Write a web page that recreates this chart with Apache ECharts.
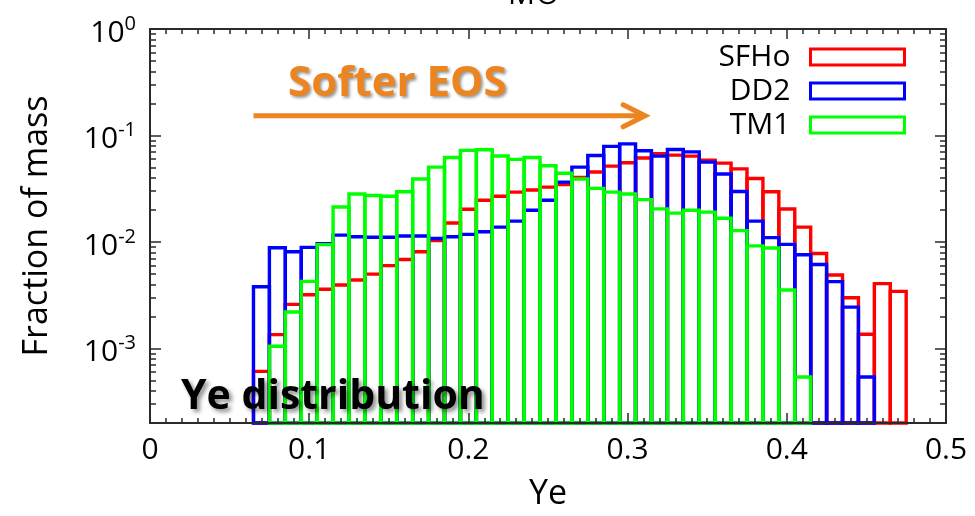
<!DOCTYPE html>
<html>
<head>
<meta charset="utf-8">
<script src="https://cdn.jsdelivr.net/npm/echarts@6/dist/echarts.min.js"></script>
<style>
  html, body { margin: 0; padding: 0; background: #fff; }
  #chart { width: 975px; height: 516px; }
</style>
</head>
<body>
<div id="chart"></div>
<script>
// Ye histogram: bin centres (width 0.01) and mass fraction per bin
const binCenters = [0.07, 0.08, 0.09, 0.10, 0.11, 0.12, 0.13, 0.14, 0.15, 0.16,
                    0.17, 0.18, 0.19, 0.20, 0.21, 0.22, 0.23, 0.24, 0.25, 0.26,
                    0.27, 0.28, 0.29, 0.30, 0.31, 0.32, 0.33, 0.34, 0.35, 0.36,
                    0.37, 0.38, 0.39, 0.40, 0.41, 0.42, 0.43, 0.44, 0.45, 0.46, 0.47];
const binWidth = 0.01;

const sfho = [6.1e-4, 1.35e-3, 2.6e-3, 3.2e-3, 3.6e-3, 3.95e-3, 4.4e-3, 5.0e-3, 6.0e-3, 6.85e-3,
              8.1e-3, 1.03e-2, 1.51e-2, 2.03e-2, 2.47e-2, 2.69e-2, 2.94e-2, 3.08e-2, 3.28e-2, 3.46e-2,
              4.05e-2, 4.55e-2, 5.16e-2, 5.55e-2, 6.15e-2, 6.75e-2, 6.55e-2, 6.4e-2, 5.85e-2, 5.5e-2,
              4.86e-2, 3.95e-2, 2.97e-2, 2.04e-2, 1.38e-2, 7.8e-3, 4.9e-3, 3.0e-3, 1.36e-3, 4.07e-3, 3.44e-3];

const dd2 = [3.8e-3, 8.85e-3, 8.1e-3, 8.9e-3, 9.65e-3, 1.16e-2, 1.12e-2, 1.11e-2, 1.11e-2, 1.14e-2,
             1.14e-2, 1.08e-2, 1.12e-2, 1.18e-2, 1.25e-2, 1.38e-2, 1.57e-2, 1.99e-2, 2.47e-2, 3.65e-2,
             5.05e-2, 6.5e-2, 7.9e-2, 8.35e-2, 7.2e-2, 6.4e-2, 7.38e-2, 7.02e-2, 5.62e-2, 4.35e-2,
             2.98e-2, 1.57e-2, 1.10e-2, 9.5e-3, 7.6e-3, 6.15e-3, 4.25e-3, 2.45e-3, 5.4e-4, null, null];

const tm1 = [null, 1.05e-3, 2.2e-3, 4.27e-3, 9.45e-3, 2.13e-2, 2.82e-2, 2.73e-2, 2.69e-2, 2.97e-2,
             3.9e-2, 5.05e-2, 6.21e-2, 7.25e-2, 7.35e-2, 6.42e-2, 5.97e-2, 6.21e-2, 5.2e-2, 4.42e-2,
             3.9e-2, 3.19e-2, 2.94e-2, 2.82e-2, 2.5e-2, 2.05e-2, 1.87e-2, 1.99e-2, 1.91e-2, 1.67e-2,
             1.28e-2, 9.2e-3, 8.8e-3, 3.55e-3, 5.4e-4, null, null, null, null, null, null];

const seriesNames = ['SFHo', 'DD2', 'TM1'];
const seriesColors = ['#ff0000', '#0000ff', '#00ff00'];

const xTickLabels = ['0', '0.1', '0.2', '0.3', '0.4', '0.5'];
const yDecades = [1e-3, 1e-2, 1e-1, 1];
const yMin = 2e-4, yMax = 1;

// minor log ticks 2..9 within each decade
const yMinorTicks = [];
[1e-4, 1e-3, 1e-2, 1e-1].forEach(d => {
  for (let m = 2; m <= 9; m++) {
    const v = +(m * d).toPrecision(3);
    if (v > yMin && v < yMax) yMinorTicks.push(v);
  }
});

const FONT = 'Open Sans';
const AXIS_COLOR = '#2a2a2a';
const BAR_STROKE = 3.4;

function histSeries(name, values, color) {
  const data = [];
  binCenters.forEach((c, i) => { if (values[i] != null) data.push([c, values[i]]); });
  return {
    name: name,
    type: 'custom',
    xAxisIndex: 0,
    yAxisIndex: 0,
    z: 2,
    itemStyle: { color: color },
    data: data,
    renderItem: function (params, api) {
      const c = api.value(0), v = api.value(1);
      const tl = api.coord([c - binWidth / 2, v]);
      const br = api.coord([c + binWidth / 2, yMin]);
      return {
        type: 'rect',
        shape: { x: tl[0], y: tl[1], width: br[0] - tl[0], height: br[1] - tl[1] },
        style: { fill: 'none', stroke: color, lineWidth: BAR_STROKE }
      };
    }
  };
}

function xAxisDef(pos, showLabels) {
  return {
    type: 'value', position: pos, min: 0, max: 0.5, interval: 0.1, z: 4,
    name: showLabels ? 'Ye' : '',
    nameLocation: 'middle', nameGap: 54,
    nameTextStyle: { fontFamily: FONT, fontSize: 34, color: '#000' },
    axisLine: { show: true, lineStyle: { color: AXIS_COLOR, width: 2 } },
    axisTick: { show: true, inside: true, length: 10, lineStyle: { color: AXIS_COLOR, width: 1.5 } },
    minorTick: { show: true, splitNumber: 10, length: 5, lineStyle: { color: AXIS_COLOR, width: 1.5 } },
    splitLine: { show: false },
    axisLabel: {
      show: showLabels, margin: 12,
      fontFamily: FONT, fontSize: 30, color: '#000',
      formatter: v => xTickLabels[Math.round(v * 10)]
    }
  };
}

function yAxisDef(pos, values, len, showLabels, withName) {
  return {
    type: 'log', logBase: 10, position: pos, min: yMin, max: yMax, z: 4,
    name: withName ? 'Fraction of mass' : '',
    nameLocation: 'middle', nameGap: 96,
    nameTextStyle: { fontFamily: FONT, fontSize: 34, color: '#000' },
    axisLine: { show: true, lineStyle: { color: AXIS_COLOR, width: 2 } },
    axisTick: { show: true, inside: true, length: len, customValues: values,
                lineStyle: { color: AXIS_COLOR, width: 1.5 } },
    minorTick: { show: false },
    splitLine: { show: false },
    axisLabel: {
      show: showLabels, customValues: values, margin: 14,
      formatter: v => '{b|10}{s|' + Math.round(Math.log10(v)) + '}',
      rich: {
        b: { fontFamily: FONT, fontSize: 30, color: '#000', lineHeight: 30, padding: [8, 0, 0, 0] },
        s: { fontFamily: FONT, fontSize: 20, color: '#000', lineHeight: 20, verticalAlign: 'top' }
      }
    }
  };
}

const chart = echarts.init(document.getElementById('chart'), null, { renderer: 'canvas' });

chart.setOption({
  animation: false,
  backgroundColor: '#fff',
  grid: { left: 150, right: 29, top: 29, bottom: 89, containLabel: false },
  xAxis: [xAxisDef('bottom', true), xAxisDef('top', false)],
  yAxis: [
    yAxisDef('left', yDecades, 11, true, true),
    yAxisDef('left', yMinorTicks, 6, false, false),
    yAxisDef('right', yDecades, 11, false, false),
    yAxisDef('right', yMinorTicks, 6, false, false)
  ],
  legend: {
    orient: 'vertical', right: 69, top: 42, align: 'right', padding: 0,
    itemGap: 4, itemWidth: 94, itemHeight: 16, icon: 'rect', selectedMode: false,
    textStyle: { fontFamily: FONT, fontSize: 30, color: '#000', lineHeight: 30, padding: [0, 15, 0, 0] },
    data: seriesNames.map((n, i) => ({
      name: n,
      itemStyle: { color: 'rgba(0,0,0,0)', borderColor: seriesColors[i], borderWidth: 3 }
    }))
  },
  series: [
    histSeries(seriesNames[0], sfho, seriesColors[0]),
    histSeries(seriesNames[1], dd2, seriesColors[1]),
    histSeries(seriesNames[2], tm1, seriesColors[2])
  ]
});

// annotations: arrow along Ye, placed in data space
const arrowFrom = [0.065, 0.153];
const arrowTo = [0.311, 0.153];
const p0 = chart.convertToPixel({ gridIndex: 0 }, arrowFrom);
const p1 = chart.convertToPixel({ gridIndex: 0 }, arrowTo);
const ORANGE = '#ec8420';

chart.setOption({
  graphic: [
    {
      type: 'text', z: 20,
      style: { text: 'M\u2299', x: 534, y: -5, textAlign: 'center', textVerticalAlign: 'middle',
               font: '30px "Open Sans", "DejaVu Sans"', fill: '#000' }
    },
    {
      type: 'line', z: 20,
      shape: { x1: p0[0], y1: p0[1], x2: p1[0] - 2, y2: p1[1] },
      style: { stroke: ORANGE, lineWidth: 5 }
    },
    {
      type: 'polyline', z: 20,
      shape: { points: [[p1[0] - 22, p1[1] - 11], [p1[0], p1[1]], [p1[0] - 22, p1[1] + 11]] },
      style: { stroke: ORANGE, lineWidth: 5, fill: 'none', lineCap: 'round', lineJoin: 'miter' }
    },
    {
      type: 'text', z: 20,
      style: {
        text: 'Softer EOS', x: 288, y: 84, textVerticalAlign: 'middle',
        font: 'bold 42px "Open Sans"', fill: ORANGE,
        textShadowColor: 'rgba(0,0,0,0.4)', textShadowBlur: 3, textShadowOffsetX: 2, textShadowOffsetY: 2
      }
    },
    {
      type: 'text', z: 20,
      style: {
        text: 'Ye distribution', x: 181, y: 397, textVerticalAlign: 'middle',
        font: 'bold 41px "Open Sans"', fill: '#000',
        textShadowColor: 'rgba(0,0,0,0.45)', textShadowBlur: 4, textShadowOffsetX: 3, textShadowOffsetY: 3
      }
    }
  ]
});
</script>
</body>
</html>
